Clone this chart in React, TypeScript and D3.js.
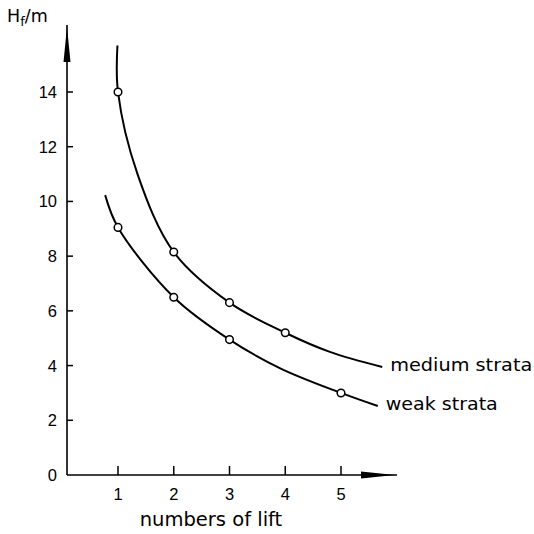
import * as d3 from 'd3';
import React, { useEffect, useRef } from 'react';

// values: H_f (m) against number of lifts
const liftTicks = [1, 2, 3, 4, 5];
const heightTicks = [0, 2, 4, 6, 8, 10, 12, 14];

// measured points (open circles)
const mediumPoints: [number, number][] = [
  [1, 14],
  [2, 8.15],
  [3, 6.3],
  [4, 5.2]
];
const weakPoints: [number, number][] = [
  [1, 9.05],
  [2, 6.5],
  [3, 4.95],
  [5, 3.0]
];

// traced curve, including the ends that run past the measured points
const mediumCurve: [number, number][] = [
  [0.99, 15.7],
  [1, 14],
  [1.35, 11.0],
  [2, 8.15],
  [3, 6.3],
  [4, 5.2],
  [4.8, 4.5],
  [5.74, 3.95]
];
const weakCurve: [number, number][] = [
  [0.77, 10.23],
  [1, 9.05],
  [2, 6.5],
  [3, 4.95],
  [3.91, 3.9],
  [5, 3.0],
  [5.66, 2.52]
];

const curveLabels = ['medium strata', 'weak strata'];

const width = 534;
const height = 534;

export default function App() {
  const d3Container = useRef<SVGSVGElement>(null);

  useEffect(() => {
    const svg = d3.select(d3Container.current);
    svg.selectAll('*').remove();

    const x = d3.scaleLinear().domain([1, 5]).range([118, 341]);
    const y = d3.scaleLinear().domain([0, 14]).range([475, 92]);

    const axisX = 67;
    const axisY = y(0);

    // y axis with arrow
    svg
      .append('line')
      .attr('x1', axisX)
      .attr('x2', axisX)
      .attr('y1', axisY)
      .attr('y2', 25)
      .attr('stroke', '#000')
      .attr('stroke-width', 1.6);
    svg
      .append('path')
      .attr('d', `M${axisX},27 L${axisX - 3.5},62 L${axisX + 3.5},62 Z`)
      .attr('fill', '#000');

    // x axis with arrow
    svg
      .append('line')
      .attr('x1', axisX)
      .attr('x2', 397)
      .attr('y1', axisY)
      .attr('y2', axisY)
      .attr('stroke', '#000')
      .attr('stroke-width', 1.6);
    svg
      .append('path')
      .attr('d', `M395,${axisY} L361,${axisY - 3.5} L361,${axisY + 3.5} Z`)
      .attr('fill', '#000');

    // y ticks point right, into the plot
    const yTicks = svg.append('g');
    yTicks
      .selectAll('line')
      .data(heightTicks.filter((d) => d > 0))
      .join('line')
      .attr('x1', axisX)
      .attr('x2', axisX + 6)
      .attr('y1', (d) => y(d))
      .attr('y2', (d) => y(d))
      .attr('stroke', '#000')
      .attr('stroke-width', 1.5);
    yTicks
      .selectAll('text')
      .data(heightTicks)
      .join('text')
      .attr('x', 57)
      .attr('y', (d) => y(d))
      .attr('dy', '0.36em')
      .attr('text-anchor', 'end')
      .attr('font-family', 'Liberation Sans, Arial, sans-serif')
      .attr('font-size', 16.5)
      .text((d) => d);

    // x ticks point up
    const xTicks = svg.append('g');
    xTicks
      .selectAll('line')
      .data(liftTicks)
      .join('line')
      .attr('x1', (d) => x(d))
      .attr('x2', (d) => x(d))
      .attr('y1', axisY)
      .attr('y2', axisY - 9)
      .attr('stroke', '#000')
      .attr('stroke-width', 1.5);
    xTicks
      .selectAll('text')
      .data(liftTicks)
      .join('text')
      .attr('x', (d) => x(d))
      .attr('y', 500)
      .attr('text-anchor', 'middle')
      .attr('font-family', 'Liberation Sans, Arial, sans-serif')
      .attr('font-size', 16.5)
      .text((d) => d);

    // axis titles
    svg
      .append('text')
      .attr('x', 211)
      .attr('y', 526)
      .attr('text-anchor', 'middle')
      .attr('font-family', 'DejaVu Sans, sans-serif')
      .attr('font-size', 19.5)
      .text('numbers of lift');

    const title = svg
      .append('text')
      .attr('x', 7)
      .attr('y', 22)
      .attr('font-family', 'DejaVu Sans, sans-serif')
      .attr('font-size', 17.5);
    title.append('tspan').text('H');
    title.append('tspan').attr('font-size', 13).attr('dy', 4).text('f');
    title.append('tspan').attr('dy', -4).text('/m');

    // curves
    const line = d3
      .line<[number, number]>()
      .x((d) => x(d[0]))
      .y((d) => y(d[1]))
      .curve(d3.curveCatmullRom.alpha(0.5));

    [mediumCurve, weakCurve].forEach((c) => {
      svg
        .append('path')
        .datum(c)
        .attr('d', line)
        .attr('fill', 'none')
        .attr('stroke', '#000')
        .attr('stroke-width', 2);
    });

    [mediumPoints, weakPoints].forEach((pts) => {
      svg
        .append('g')
        .selectAll('circle')
        .data(pts)
        .join('circle')
        .attr('cx', (d) => x(d[0]))
        .attr('cy', (d) => y(d[1]))
        .attr('r', 3.8)
        .attr('fill', '#fff')
        .attr('stroke', '#000')
        .attr('stroke-width', 1.5);
    });

    // curve labels at the right-hand ends
    const ends = [mediumCurve[mediumCurve.length - 1], weakCurve[weakCurve.length - 1]];
    svg
      .append('g')
      .selectAll('text')
      .data(curveLabels)
      .join('text')
      .attr('x', (_d, i) => x(ends[i][0]) + 8)
      .attr('y', (_d, i) => y(ends[i][1]) + 4)
      .attr('font-family', 'DejaVu Sans, sans-serif')
      .attr('font-size', 18)
      .attr('textLength', (_d, i) => (i === 0 ? 142 : 112))
      .attr('lengthAdjust', 'spacingAndGlyphs')
      .text((d) => d);
  }, []);

  return (
    <svg
      ref={d3Container}
      width={width}
      height={height}
      viewBox={`0 0 ${width} ${height}`}
      style={{ position: 'absolute', left: 0, top: 0, background: '#fff' }}
    ></svg>
  );
}
